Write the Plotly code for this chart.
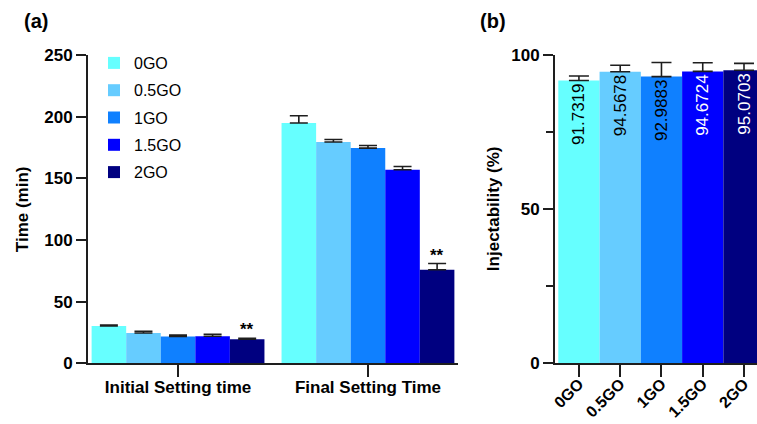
import plotly.graph_objects as go

# ---- data ----
groups = ["0GO", "0.5GO", "1GO", "1.5GO", "2GO"]
colors = ["#66FFFF", "#66CCFF", "#0F80FF", "#0000FF", "#000080"]

phases = ["Initial Setting time", "Final Setting Time"]
initial_time = [30.2, 24.6, 21.7, 21.9, 19.5]
initial_err = [0.9, 1.4, 1.2, 1.6, 0.8]
final_time = [194.9, 179.4, 174.5, 157.0, 75.8]
final_err = [5.8, 2.1, 2.1, 2.6, 5.1]

injectability = [91.7319, 94.5678, 92.9883, 94.6724, 95.0703]
inject_err = [1.45, 2.1, 4.6, 2.8, 2.2]
label_colors = ["black", "black", "black", "white", "white"]

FONT = "Liberation Sans, Arial, sans-serif"
AXC = "#1e1e1e"

fig = go.Figure()

# ---- panel (a): grouped setting-time bars ----
group_w = 0.91
bar_w = group_w / len(groups)
for i, g in enumerate(groups):
    fig.add_trace(go.Bar(
        x=[0, 1],
        y=[initial_time[i], final_time[i]],
        name=g,
        width=bar_w,
        offset=-group_w / 2 + i * bar_w,
        marker=dict(color=colors[i], line=dict(width=0)),
        error_y=dict(type="data", symmetric=False,
                     array=[initial_err[i], final_err[i]],
                     arrayminus=[0, 0],
                     color=AXC, thickness=1.6, width=9),
        legendgroup=g,
        xaxis="x", yaxis="y",
    ))

# ---- panel (b): injectability bars ----
fig.add_trace(go.Bar(
    x=list(range(len(groups))),
    y=injectability,
    width=1.0,
    marker=dict(color=colors, line=dict(width=0)),
    error_y=dict(type="data", symmetric=False, array=inject_err,
                 arrayminus=[0] * len(groups),
                 color=AXC, thickness=1.6, width=10),
    texttemplate="%{y:.4f}",
    textposition="inside",
    insidetextanchor="end",
    textangle=-90,
    textfont=dict(family=FONT, size=17, color=label_colors),
    showlegend=False,
    xaxis="x2", yaxis="y2",
))

axis_common = dict(showline=True, linewidth=2, linecolor=AXC,
                   ticks="outside", tickwidth=2, tickcolor=AXC,
                   showgrid=False, zeroline=False, automargin=False)
bold17 = dict(family=FONT, size=17, color="black", weight="bold")

y_dom = [60.7 / 424, 369 / 424]

fig.update_layout(
    width=757, height=424,
    margin=dict(l=0, r=0, t=0, b=0),
    paper_bgcolor="white", plot_bgcolor="white",
    barmode="overlay",
    font=dict(family=FONT, color="black"),
    xaxis=dict(domain=[88 / 757, 458 / 757], range=[-0.474, 1.474],
               tickvals=[0, 1], ticktext=phases, ticklen=12,
               ticklabelstandoff=-5,
               tickfont=bold17, **axis_common),
    yaxis=dict(domain=y_dom, range=[0, 250], dtick=50, ticklen=10,
               tickfont=bold17, **axis_common),
    xaxis2=dict(domain=[555 / 757, 1.0], range=[-0.58, 4.315],
                tickvals=list(range(len(groups))), ticktext=groups,
                tickangle=-45, ticklen=12, anchor="y2",
                ticklabelstandoff=-9,
                tickfont=dict(family=FONT, size=16, color="black", weight="bold"),
                **axis_common),
    yaxis2=dict(domain=y_dom, range=[0, 100], dtick=50, ticklen=10,
                anchor="x2", tickfont=bold17,
                minor=dict(dtick=25, ticks="outside", ticklen=7,
                           tickwidth=2, tickcolor=AXC),
                **axis_common),
    legend=dict(x=94 / 757, y=1 - 46 / 424, xanchor="left", yanchor="top",
                font=dict(family=FONT, size=16, color="black"),
                bgcolor="rgba(0,0,0,0)", tracegroupgap=3.5,
                traceorder="grouped"),
)

annotations = [
    dict(text="<b>(a)</b>", x=22 / 757, y=1 - 21 / 424, xref="paper", yref="paper",
         xanchor="left", yanchor="middle", showarrow=False,
         font=dict(family=FONT, size=20)),
    dict(text="<b>(b)</b>", x=478 / 757, y=1 - 21 / 424, xref="paper", yref="paper",
         xanchor="left", yanchor="middle", showarrow=False,
         font=dict(family=FONT, size=20)),
    dict(text="<b>Time (min)</b>", x=22 / 757, y=sum(y_dom) / 2,
         xref="paper", yref="paper", textangle=-90, showarrow=False,
         xanchor="center", yanchor="middle", font=dict(family=FONT, size=17)),
    dict(text="<b>Injectability (%)</b>", x=493 / 757, y=sum(y_dom) / 2,
         xref="paper", yref="paper", textangle=-90, showarrow=False,
         xanchor="center", yanchor="middle", font=dict(family=FONT, size=17)),
]
# significance marks over the 2GO bars
star_x = -group_w / 2 + 4 * bar_w + bar_w / 2
for k, (v, e) in enumerate([(initial_time[4], initial_err[4]), (final_time[4], final_err[4])]):
    annotations.append(dict(text="<b>**</b>", x=k + star_x, y=v + e, xref="x", yref="y",
                            xanchor="center", yanchor="bottom", yshift=-3,
                            showarrow=False, font=dict(family=FONT, size=17)))
fig.update_layout(annotations=annotations)

fig.write_html("out.html")
